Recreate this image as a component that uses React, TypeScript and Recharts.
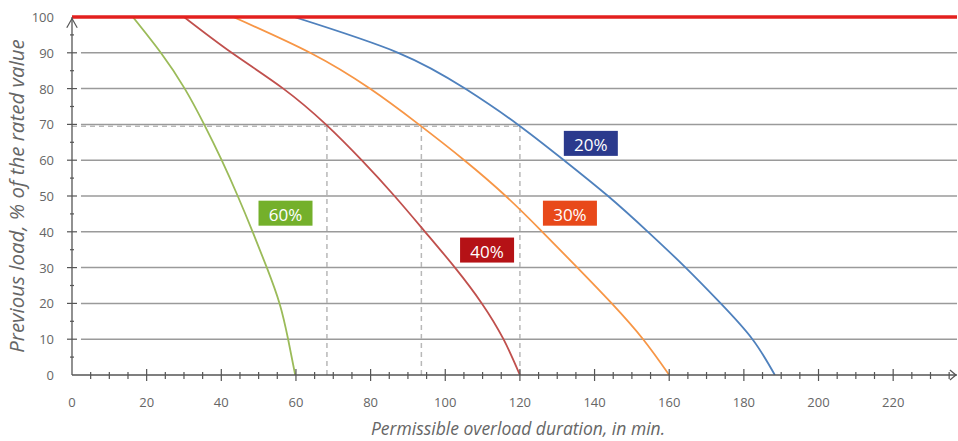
import {
  LineChart,
  Line,
  XAxis,
  YAxis,
  ReferenceLine,
  ReferenceDot,
} from "recharts";

const loadLevels = [100, 90, 80, 70, 60, 50, 40, 30, 20, 10, 0];

// permissible overload duration (min) per curve, same order as loadLevels
const minutes60 = [16.3, 23.8, 30.2, 35.4, 40.1, 44.4, 48.4, 52.2, 55.6, 57.9, 59.8];
const minutes40 = [30, 42.8, 56.6, 68, 77.6, 86.4, 94.6, 102.6, 109.8, 115.6, 120];
const minutes30 = [43.2, 63.8, 79.8, 92.9, 105.1, 116.2, 126, 135.4, 144.6, 153, 160];
const minutes20 = [59.5, 87.4, 105.3, 119.4, 131.8, 143.6, 154.3, 164.4, 173.8, 182.3, 188.3];

const xTicks = Array.from({ length: 48 }, (_, i) => i * 5); // 0..235
const yTicks = Array.from({ length: 21 }, (_, i) => i * 5); // 0..100
const gridLoads = [10, 20, 30, 40, 50, 60, 70, 80, 90];

// dashed guides at ~70 % load
const guideLoad = 69.5;
const guideMinutes = [68.3, 93.6, 120];

// curve tags
const tagNames = ["60%", "40%", "30%", "20%"];
const tagMinutes = [57.2, 111.2, 133.4, 139];
const tagLoads = [45.2, 34.9, 45.2, 64.7];
const tagColors = ["#74b02b", "#b51216", "#e8491a", "#2b3a8d"];

const lineColors = ["#9bbb59", "#c0504d", "#f79646", "#4f81bd"];

const toPoints = (mins: number[]) =>
  mins.map((m, i) => ({ minutes: m, load: loadLevels[i] }));

const series = [minutes60, minutes40, minutes30, minutes20].map(toPoints);

const FONT = "'Open Sans', sans-serif";
const AXIS = "#555";

function XTick(props: any) {
  const { x, y, payload } = props;
  const v = payload.value as number;
  const major = v % 20 === 0;
  if (v === 0) {
    return (
      <text x={x} y={y + 27} textAnchor="middle" dominantBaseline="central" fontSize={13} fill="#666" fontFamily={FONT}>
        0
      </text>
    );
  }
  return (
    <g>
      <line x1={x} x2={x} y1={major ? y - 6 : y - 3} y2={major ? y + 6 : y + 4} stroke={AXIS} strokeWidth={1.2} />
      {major && v <= 220 && (
        <text x={x} y={y + 27} textAnchor="middle" dominantBaseline="central" fontSize={13} fill="#666" fontFamily={FONT}>
          {v}
        </text>
      )}
    </g>
  );
}

function YTick(props: any) {
  const { x, y, payload } = props;
  const v = payload.value as number;
  const major = v % 10 === 0;
  return (
    <g>
      {v !== 0 && v !== 100 && (
        <line x1={major ? x - 5 : x - 2} x2={major ? x + 5 : x + 2} y1={y} y2={y} stroke={AXIS} strokeWidth={1.2} />
      )}
      {major && (
        <text x={x - 18} y={y} textAnchor="end" dominantBaseline="central" fontSize={13} fill="#666" fontFamily={FONT}>
          {v}
        </text>
      )}
    </g>
  );
}

export default function App() {
  return (
    <div style={{ width: 958, height: 441 }}>
      <style>{`body{margin:0}`}</style>
      <LineChart width={958} height={441} margin={{ top: 17, right: 1, bottom: 0, left: 0 }}>
        <XAxis
          type="number"
          dataKey="minutes"
          domain={[0, 237.1]}
          ticks={xTicks}
          tick={<XTick />}
          tickLine={false}
          tickSize={0}
          tickMargin={0}
          interval={0}
          height={66}
          allowDataOverflow
          axisLine={{ stroke: AXIS, strokeWidth: 1.3 }}
          label={{
            content: () => (
              <text x={518} y={428} textAnchor="middle" dominantBaseline="central" fontSize={17.5} fontStyle="italic" fill="#666" fontFamily={FONT}>
                Permissible overload duration, in min.
              </text>
            ),
          }}
        />
        <YAxis
          type="number"
          dataKey="load"
          domain={[0, 100]}
          ticks={yTicks}
          tick={<YTick />}
          tickLine={false}
          tickSize={0}
          tickMargin={0}
          interval={0}
          width={72}
          allowDataOverflow
          axisLine={{ stroke: AXIS, strokeWidth: 1.3 }}
          label={{
            content: () => (
              <text
                x={16}
                y={196}
                transform="rotate(-90 16 196)"
                textAnchor="middle"
                dominantBaseline="central"
                fontSize={20.5}
                fontStyle="italic"
                fill="#666"
                fontFamily={FONT}
              >
                Previous load, % of the rated value
              </text>
            ),
          }}
        />

        {gridLoads.map((g) => (
          <ReferenceLine
            key={`g${g}`}
            segment={[
              { x: 2.4, y: g },
              { x: 237.1, y: g },
            ]}
            stroke="#9a9a9a"
            strokeWidth={1.5}
          />
        ))}

        <ReferenceLine
          segment={[
            { x: 0, y: guideLoad },
            { x: guideMinutes[2], y: guideLoad },
          ]}
          stroke="#b8b8b8"
          strokeWidth={1.5}
          strokeDasharray="5 4"
        />
        {guideMinutes.map((m) => (
          <ReferenceLine
            key={`v${m}`}
            segment={[
              { x: m, y: 0 },
              { x: m, y: guideLoad },
            ]}
            stroke="#b8b8b8"
            strokeWidth={1.5}
            strokeDasharray="5 4"
          />
        ))}

        {series.map((data, i) => (
          <Line
            key={i}
            data={data}
            dataKey="load"
            type="natural"
            stroke={lineColors[i]}
            strokeWidth={1.8}
            dot={false}
            isAnimationActive={false}
          />
        ))}

        <ReferenceLine y={100} stroke="#e3201e" strokeWidth={3.5} />

        {/* axis arrows */}
        <ReferenceLine
          segment={[
            { x: -1.4, y: 97 },
            { x: 0, y: 99.6 },
          ]}
          ifOverflow="visible"
          stroke={AXIS}
          strokeWidth={1.2}
        />
        <ReferenceLine
          segment={[
            { x: 1.4, y: 97 },
            { x: 0, y: 99.6 },
          ]}
          ifOverflow="visible"
          stroke={AXIS}
          strokeWidth={1.2}
        />
        <ReferenceLine
          segment={[
            { x: 235.2, y: 1.4 },
            { x: 236.8, y: 0 },
          ]}
          ifOverflow="visible"
          stroke={AXIS}
          strokeWidth={1.2}
        />
        <ReferenceLine
          segment={[
            { x: 235.2, y: -1.4 },
            { x: 236.8, y: 0 },
          ]}
          ifOverflow="visible"
          stroke={AXIS}
          strokeWidth={1.2}
        />

        {tagNames.map((name, i) => (
          <ReferenceDot
            key={name}
            x={tagMinutes[i]}
            y={tagLoads[i]}
            ifOverflow="visible"
            shape={(p: any) => (
              <g>
                <rect x={p.cx - 27} y={p.cy - 12.5} width={54} height={25} fill={tagColors[i]} />
                <text
                  x={p.cx}
                  y={p.cy + 1}
                  textAnchor="middle"
                  dominantBaseline="central"
                  fontSize={17}
                  fill="#fff"
                  fontFamily={FONT}
                >
                  {name}
                </text>
              </g>
            )}
          />
        ))}
      </LineChart>
    </div>
  );
}
